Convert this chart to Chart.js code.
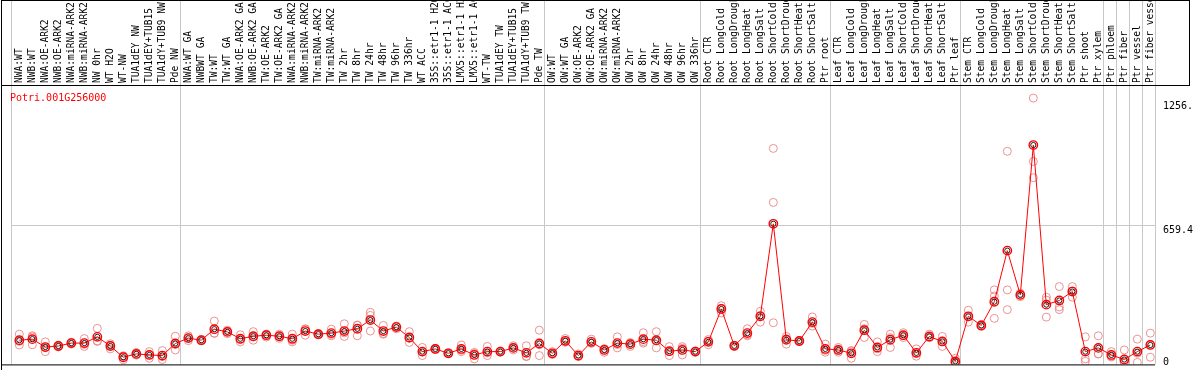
<!DOCTYPE html>
<html>
<head>
<meta charset="utf-8">
<title>Potri.001G256000</title>
<script src="https://cdn.jsdelivr.net/npm/chart.js@4.4.1/dist/chart.umd.min.js"></script>
<style>
    html, body { margin: 0; padding: 0; background: #fff; }
    canvas { display: block; }
</style>
</head>
<body>
<canvas id="expr-chart" width="1194" height="370"></canvas>
<script>
// Amostras (colunas), na ordem do gráfico
const categories = [
    'NWA:WT', 'NWB:WT', 'NWA:OE-ARK2', 'NWB:OE-ARK2', 'NWA:miRNA-ARK2', 'NWB:miRNA-ARK2', 'NW 0hr', 'WT H2O', 'WT-NW',
    'TUA1dEY NW', 'TUA1dEY+TUB15', 'TUA1dY+TUB9 NW', 'Pde NW',
    'NWA:WT GA', 'NWBWT GA', 'TW:WT', 'TW:WT GA', 'NWA:OE-ARK2 GA', 'NWB:OE-ARK2 GA', 'TW:OE-ARK2', 'TW:OE-ARK2 GA',
    'NWA:miRNA-ARK2', 'NWB:miRNA-ARK2', 'TW:miRNA-ARK2', 'TW:miRNA-ARK2', 'TW 2hr', 'TW 8hr', 'TW 24hr', 'TW 48hr',
    'TW 96hr', 'TW 336hr', 'WT ACC', '35S::etr1-1 H2O', '35S::etr1-1 ACC', 'LMX5::etr1-1 H2O', 'LMX5::etr1-1 ACC',
    'WT-TW', 'TUA1dEY TW', 'TUA1dEY+TUB15', 'TUA1dY+TUB9 TW', 'Pde TW',
    'OW:WT', 'OW:WT GA', 'OW:OE-ARK2', 'OW:OE-ARK2 GA', 'OW:miRNA-ARK2', 'OW:miRNA-ARK2', 'OW 2hr', 'OW 8hr',
    'OW 24hr', 'OW 48hr', 'OW 96hr', 'OW 336hr',
    'Root CTR', 'Root LongCold', 'Root LongDrought', 'Root LongHeat', 'Root LongSalt', 'Root ShortCold',
    'Root ShortDrought', 'Root ShortHeat', 'Root ShortSalt', 'Ptr root',
    'Leaf CTR', 'Leaf LongCold', 'Leaf LongDrought', 'Leaf LongHeat', 'Leaf LongSalt', 'Leaf ShortCold',
    'Leaf ShortDrought', 'Leaf ShortHeat', 'Leaf ShortSalt', 'Ptr leaf',
    'Stem CTR', 'Stem LongCold', 'Stem LongDrought', 'Stem LongHeat', 'Stem LongSalt', 'Stem ShortCold',
    'Stem ShortDrought', 'Stem ShortHeat', 'Stem ShortSalt', 'Ptr shoot', 'Ptr xylem',
    'Ptr phloem', 'Ptr fiber', 'Ptr vessel', 'Ptr fiber vessel'
];

// Índices onde começa cada grupo (linhas verticais cinzas)
const groupStarts = [0, 13, 41, 53, 63, 73, 84, 85, 86, 87, 88];

// Média por amostra
const meanValues = [
    107, 112, 74, 79, 93, 93, 123, 79, 25, 41, 36, 33, 91,
    117, 107, 160, 147, 114, 126, 131, 126, 114, 151, 136, 141, 151, 162, 204, 151, 170, 120,
    52, 65, 44, 65, 36, 52, 52, 70, 46, 91,
    44, 104, 33, 99, 60, 93, 88, 112, 107, 54, 60, 52,
    99, 257, 80, 141, 222, 667, 109, 103, 194, 65,
    60, 44, 155, 72, 109, 131, 46, 125, 101, 5,
    222, 178, 292, 538, 325, 1046, 278, 298, 341, 52, 70,
    36, 14, 52, 84
];

// Réplicas (três por amostra)
const replicateA = [
    136, 128, 99, 82, 97, 115, 164, 90, 32, 48, 52, 57, 126,
    128, 110, 199, 155, 133, 148, 137, 136, 136, 162, 139, 160, 186, 180, 241, 178, 175, 148,
    72, 68, 46, 84, 48, 77, 54, 80, 80, 155,
    52, 115, 41, 112, 66, 123, 96, 143, 148, 76, 76, 55,
    110, 273, 83, 162, 246, 1030, 125, 106, 219, 88,
    72, 57, 183, 99, 136, 143, 65, 136, 125, 20,
    251, 183, 349, 1016, 333, 1272, 314, 365, 365, 123, 128,
    52, 60, 112, 141
];
const replicateB = [
    101, 123, 71, 80, 94, 87, 104, 82, 30, 40, 36, 28, 87,
    118, 107, 141, 148, 110, 123, 134, 126, 107, 160, 136, 135, 142, 178, 226, 139, 173, 116,
    51, 65, 44, 59, 43, 46, 52, 70, 30, 85,
    42, 100, 30, 93, 65, 86, 91, 100, 103, 53, 68, 52,
    102, 260, 80, 133, 226, 770, 114, 103, 188, 58,
    59, 55, 162, 65, 119, 130, 43, 120, 101, 0,
    221, 178, 320, 349, 325, 967, 300, 267, 344, 17, 41,
    30, 1, 44, 86
];
const replicateC = [
    84, 85, 52, 75, 88, 77, 101, 65, 13, 35, 20, 14, 60,
    105, 104, 140, 138, 99, 107, 122, 116, 99, 131, 133, 128, 125, 128, 151, 136, 162, 96,
    33, 62, 42, 52, 17, 33, 50, 60, 28, 33,
    38, 97, 28, 92, 49, 70, 77, 93, 70, 33, 36, 49,
    85, 238, 77, 128, 194, 191, 88, 100, 175, 49,
    49, 20, 120, 52, 72, 120, 30, 119, 77, 0,
    194, 173, 212, 254, 317, 889, 218, 254, 314, 5, 41,
    26, 0, 0, 25
];

// Marcas do eixo direito
const yTickValues = [1256, 659.4, 0];
const yTickLabels = ['1256.', '659.4', '0'];
const geneName = 'Potri.001G256000';

const X_OFFSET = 0.64;
const toPoints = arr => arr.map((v, i) => ({ x: i, y: v }));

// Moldura, separadores, rótulos girados e eixo direito
const frame = {
    id: 'frame',
    beforeDatasetsDraw(chart) {
        const { ctx, chartArea, scales } = chart;
        const x = scales.x, y = scales.y;
        ctx.save();
        ctx.fillStyle = '#c8c8c8';
        groupStarts.forEach(k => {
            const px = Math.round(x.getPixelForValue(k - X_OFFSET));
            ctx.fillRect(px, 0, 1, chartArea.bottom);
        });
        const gy = Math.round(y.getPixelForValue(659.4));
        ctx.fillRect(chartArea.left, gy, chartArea.right - chartArea.left + 1, 1);
        ctx.restore();
    },
    afterDraw(chart) {
        const { ctx, chartArea, scales } = chart;
        const x = scales.x, y = scales.y;
        ctx.save();

        // linhas pretas
        ctx.fillStyle = '#000';
        ctx.fillRect(1, 0, 1, 370);
        ctx.fillRect(1, 0, 1188, 1);
        ctx.fillRect(1, 85, 1188, 1);
        ctx.fillRect(1189, 0, 1, 86);
        ctx.fillRect(1, chartArea.bottom, chartArea.right - 1, 1);

        // rótulos das amostras
        ctx.beginPath();
        ctx.rect(2, 1, 1187, 83);
        ctx.clip();
        ctx.font = '9.6px "DejaVu Sans Mono"';
        ctx.textAlign = 'left';
        ctx.textBaseline = 'middle';
        categories.forEach((label, i) => {
            ctx.save();
            ctx.translate(x.getPixelForValue(i), 83);
            ctx.rotate(-Math.PI / 2);
            ctx.fillText(label, 0, 0.5);
            ctx.restore();
        });
        ctx.restore();

        ctx.save();
        ctx.font = '10px "DejaVu Sans Mono"';
        ctx.textBaseline = 'middle';
        ctx.fillStyle = '#000';
        yTickValues.forEach((v, i) => {
            const py = Math.min(y.getPixelForValue(v) + 5, 362);
            ctx.fillText(yTickLabels[i], 1163, py);
        });
        ctx.fillStyle = '#ff0000';
        ctx.textBaseline = 'alphabetic';
        ctx.fillText(geneName, 10, 101);
        ctx.restore();
    }
};

const repStyle = {
    showLine: false,
    pointRadius: 4,
    pointHoverRadius: 4,
    pointBorderWidth: 1,
    pointBorderColor: 'rgba(232, 128, 128, 0.85)',
    pointBackgroundColor: 'rgba(0,0,0,0)'
};

new Chart(document.getElementById('expr-chart'), {
    type: 'line',
    data: {
        datasets: [
            { label: 'rep A', data: toPoints(replicateA), order: 4, ...repStyle },
            { label: 'rep B', data: toPoints(replicateB), order: 3, ...repStyle },
            { label: 'rep C', data: toPoints(replicateC), order: 2, ...repStyle },
            {
                label: 'média (anel)',
                data: toPoints(meanValues),
                showLine: false,
                order: 0,
                pointRadius: 2.6,
                pointBorderWidth: 1,
                pointBorderColor: '#202020',
                pointBackgroundColor: 'rgba(0,0,0,0)'
            },
            {
                label: 'média',
                data: toPoints(meanValues),
                order: 1,
                borderColor: '#ff0000',
                borderWidth: 1,
                tension: 0,
                pointRadius: 4.2,
                pointBorderWidth: 1.4,
                pointBorderColor: '#ff0000',
                pointBackgroundColor: 'rgba(0,0,0,0)'
            }
        ]
    },
    options: {
        responsive: false,
        animation: false,
        devicePixelRatio: 1,
        layout: { padding: { left: 11, right: 39, top: 85, bottom: 1 } },
        plugins: {
            legend: { display: false },
            tooltip: { enabled: false }
        },
        scales: {
            x: { type: 'linear', display: false, min: -X_OFFSET, max: 88 - X_OFFSET },
            y: { type: 'linear', display: false, min: -9.5, max: 1335 }
        }
    },
    plugins: [frame]
});
</script>
</body>
</html>
